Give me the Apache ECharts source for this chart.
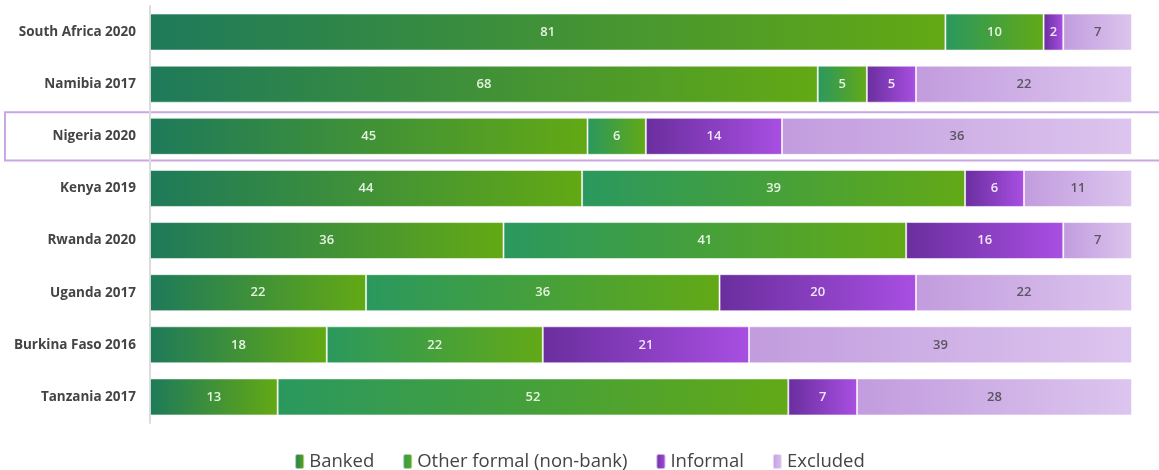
<!DOCTYPE html>
<html><head><meta charset="utf-8">
<script src="https://cdn.jsdelivr.net/npm/echarts@6/dist/echarts.min.js"></script>
<style>html,body{margin:0;padding:0;background:#fff}#c{width:1159px;height:470px}</style>
</head><body><div id="c"></div>
<script>
const categories = ['South Africa 2020','Namibia 2017','Nigeria 2020','Kenya 2019','Rwanda 2020','Uganda 2017','Burkina Faso 2016','Tanzania 2017'];
const banked = [81,68,45,44,36,22,18,13];
const otherFormal = [10,5,6,39,41,36,22,52];
const informal = [2,5,14,6,16,20,21,7];
const excluded = [7,22,36,11,7,22,39,28];
const seriesNames = ['Banked','Other formal (non-bank)','Informal','Excluded'];
const highlighted = 'Nigeria 2020';

const raw = [banked, otherFormal, informal, excluded];
const totals = categories.map((c,i)=>raw.reduce((s,a)=>s+a[i],0));
const grads = [['#1e7a5a','#63a914'],['#2a985e','#62a916'],['#6a2e9e','#a84fe2'],['#c29cde','#dcc5ee']];
const labelColors = ['#e6f2e0','#e6f2e0','#f0e6f8','#5a5560'];
function grad(c){return {type:'linear',x:0,y:0,x2:1,y2:0,colorStops:[{offset:0,color:c[0]},{offset:1,color:c[1]}]};}

const chart = echarts.init(document.getElementById('c'));
const series = raw.map((arr,k)=>({
  name: seriesNames[k], type:'bar', stack:'t', barCategoryGap:'29%',
  data: arr.map((v,i)=>({value: v/totals[i]*100, raw: v})),
  itemStyle:{color:grad(grads[k]), borderColor:'rgba(255,255,255,0.55)', borderWidth:1},
  label:{show:true, position:'inside', color:labelColors[k], fontSize:13, fontFamily:'Open Sans', fontWeight:600,
    formatter:p=>p.data.raw},
  emphasis:{disabled:true}
}));
chart.setOption({
  animation:false,
  grid:{left:150, right:27, top:6, bottom:47},
  xAxis:{type:'value', min:0, max:100, show:false},
  yAxis:{type:'category', data:categories, inverse:true,
    axisLine:{show:true, lineStyle:{color:'#dcdcdc', width:2}}, axisTick:{show:false},
    axisLabel:{color:'#444', fontSize:13.5, fontWeight:'bold', fontFamily:'Open Sans', margin:14}},
  legend:{top:447, left:'center', itemWidth:9, itemHeight:15, itemGap:28,
    textStyle:{color:'#444', fontSize:18.5, fontFamily:'Open Sans'}, selectedMode:false,
    data:seriesNames},
  series
});
const yc = chart.convertToPixel({yAxisIndex:0}, highlighted);
const band = (chart.convertToPixel({yAxisIndex:0}, categories[1]) - chart.convertToPixel({yAxisIndex:0}, categories[0]));
chart.setOption({graphic:[{type:'rect', z:-1, shape:{x:5, y:yc-band/2+2, width:1200, height:band-4},
  style:{fill:'none', stroke:'#c9a8e2', lineWidth:2}}]});
</script></body></html>
